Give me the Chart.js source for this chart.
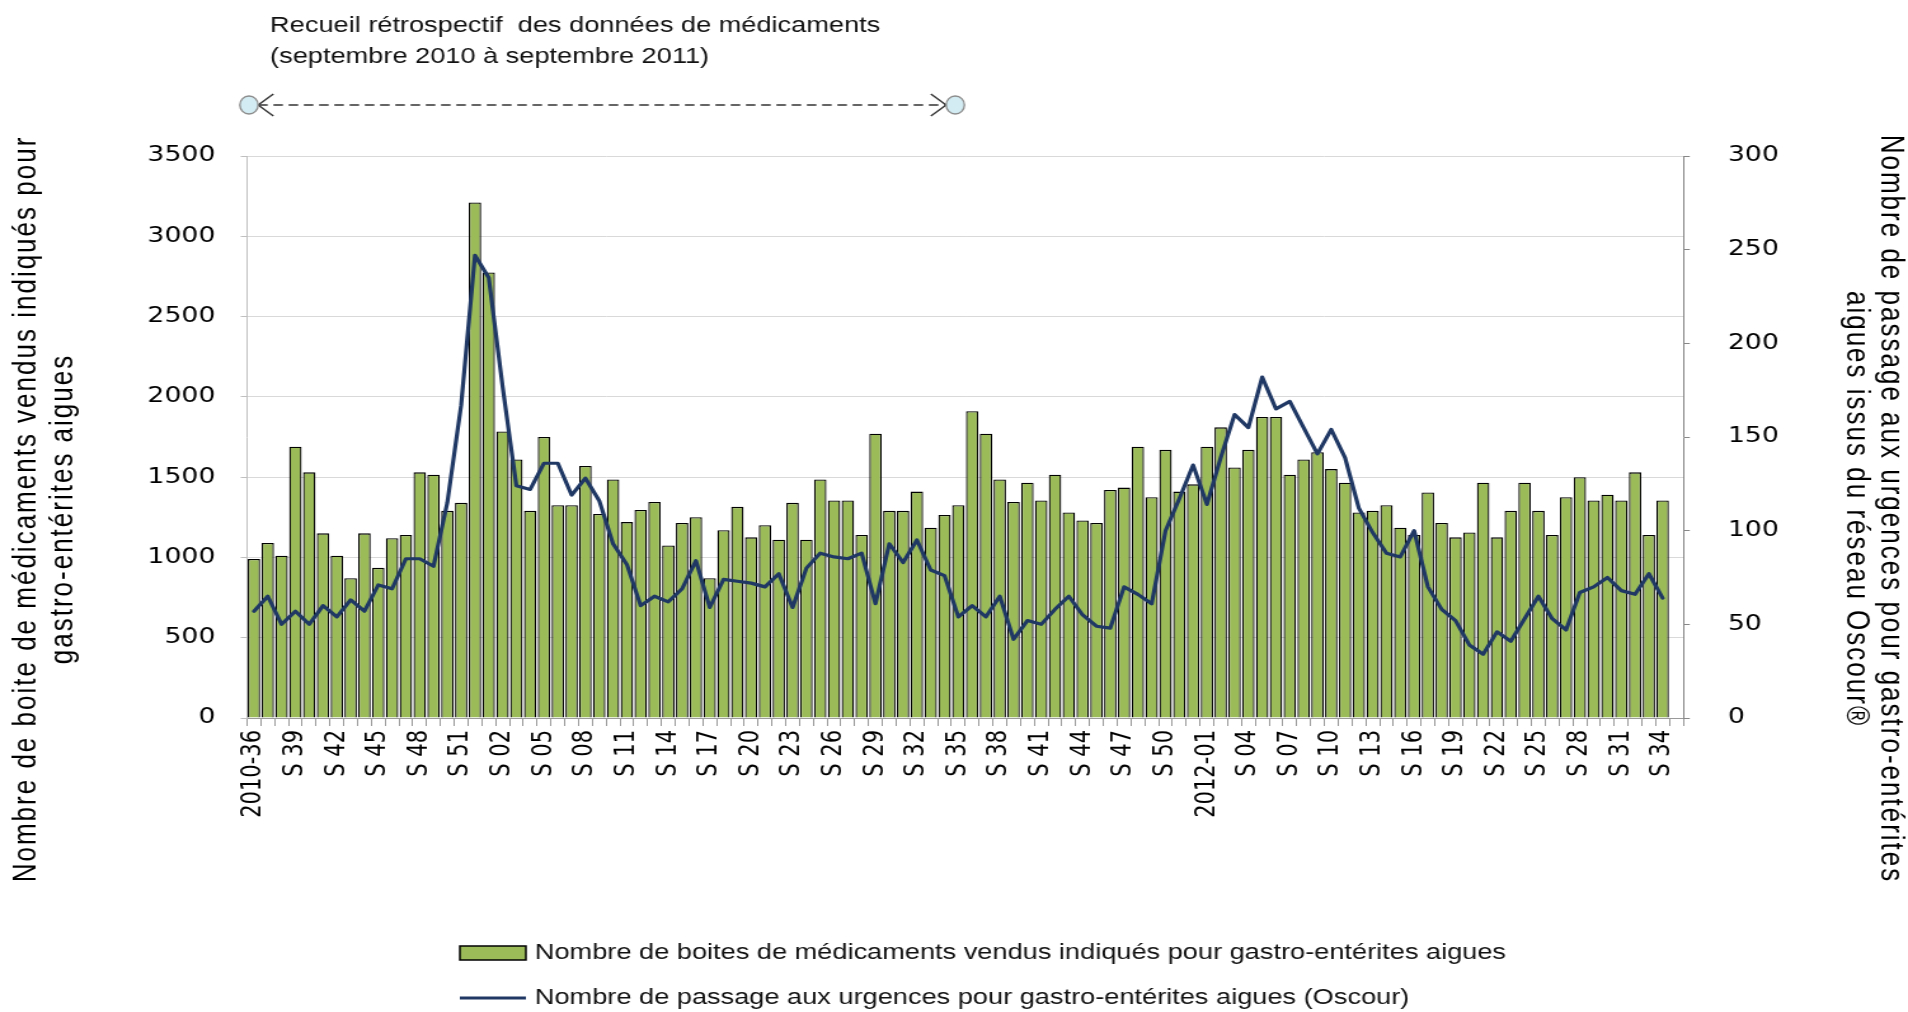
<!DOCTYPE html>
<html><head><meta charset="utf-8">
<script src="https://cdn.jsdelivr.net/npm/chart.js@4.4.1/dist/chart.umd.min.js"></script>
<style>html,body{margin:0;padding:0;background:#fff;overflow:hidden}canvas{display:block}</style>
</head><body>
<canvas id="c"></canvas>
<script>
const weekLabels = [
 "2010-36","S 37","S 38","S 39","S 40","S 41","S 42","S 43","S 44","S 45","S 46","S 47","S 48","S 49","S 50","S 51","S 52",
 "2011-01","S 02","S 03","S 04","S 05","S 06","S 07","S 08","S 09","S 10","S 11","S 12","S 13","S 14","S 15","S 16","S 17","S 18","S 19","S 20",
 "S 21","S 22","S 23","S 24","S 25","S 26","S 27","S 28","S 29","S 30","S 31","S 32","S 33","S 34","S 35","S 36","S 37","S 38","S 39","S 40",
 "S 41","S 42","S 43","S 44","S 45","S 46","S 47","S 48","S 49","S 50","S 51","S 52",
 "2012-01","S 02","S 03","S 04","S 05","S 06","S 07","S 08","S 09","S 10","S 11","S 12","S 13","S 14","S 15","S 16","S 17","S 18","S 19","S 20",
 "S 21","S 22","S 23","S 24","S 25","S 26","S 27","S 28","S 29","S 30","S 31","S 32","S 33","S 34","S 35"
];
const boxesSold = [
 990,1090,1010,1690,1530,1150,1010,870,1150,935,1120,1140,1530,1515,1290,1340,3210,
 2775,1785,1610,1290,1750,1325,1325,1570,1270,1485,1220,1295,1345,1075,1215,1250,870,1170,
 1315,1125,1200,1110,1340,1110,1485,1355,1355,1140,1770,1290,1290,1410,1185,1265,1325,
 1910,1770,1485,1345,1465,1355,1515,1280,1230,1215,1420,1435,1690,1375,1670,1410,1455,
 1690,1810,1560,1670,1875,1875,1515,1610,1655,1550,1465,1280,1290,1325,1185,1140,1405,1215,
 1125,1155,1465,1125,1290,1465,1290,1140,1375,1500,1355,1390,1355,1530,1140,1355,null
];
const erVisits = [
 57,65,50,57,50,60,54,63,57,71,69,85,85,81,115,167,247,
 235,177,124,122,136,136,119,128,116,93,82,60,65,62,69,84,59,74,
 73,72,70,77,59,80,88,86,85,88,61,93,83,95,79,76,54,
 60,54,65,42,52,50,58,65,55,49,48,70,66,61,100,117,135,
 114,139,162,155,182,165,169,155,141,154,139,112,99,88,86,100,70,58,
 52,39,34,46,41,53,65,53,47,67,70,75,68,66,77,64,null
];
const seriesNames = [
 "Nombre de boites de médicaments vendus indiqués pour gastro-entérites aigues",
 "Nombre de passage aux urgences pour gastro-entérites aigues (Oscour)"
];
const leftTitle = ["Nombre de boite de médicaments vendus indiqués pour","gastro-entérites aigues"];
const rightTitle = ["Nombre de passage aux urgences pour gastro-entérites","aigues issus du réseau Oscour®"];
const noteLines = ["Recueil rétrospectif  des données de médicaments","(septembre 2010 à septembre 2011)"];

const GREEN = '#9BBB59', NAVY = '#1F3864';
const STRETCH = 1.27;
const W = Math.round(1908 / STRETCH), H = 1012;
const cv = document.getElementById('c');
cv.width = W; cv.height = H;
cv.style.width = '1908px'; cv.style.height = '1012px';

const AREA_L = 247 / STRETCH, AREA_R = 1683 / STRETCH;
const TXT = '"Liberation Sans", Arial, sans-serif';
const TICKFONT = {family:'"DejaVu Sans", Verdana, sans-serif', size:21};

const decor = {
  id:'decor',
  afterDraw(chart){
    const ctx = chart.ctx;
    ctx.save();
    ctx.fillStyle = '#000';
    // axis titles
    ctx.font = '26px ' + TXT;
    ctx.letterSpacing = '2px';
    ctx.textAlign = 'center'; ctx.textBaseline = 'middle';
    const cy = 509;
    const put = (txt, x, rot) => { ctx.save(); ctx.translate(x, cy); ctx.rotate(rot); ctx.fillText(txt, 0, 0); ctx.restore(); };
    put(leftTitle[0], 21, -Math.PI/2);
    put(leftTitle[1], 50, -Math.PI/2);
    put(rightTitle[0], 1488, Math.PI/2);
    put(rightTitle[1], 1461, Math.PI/2);
    ctx.letterSpacing = '0px';
    // note above the chart
    ctx.font = '21.4px ' + TXT;
    ctx.textAlign = 'left';
    ctx.fillStyle = '#111';
    ctx.fillText(noteLines[0], 212.6, 26);
    ctx.fillText(noteLines[1], 212.6, 57);
    // dashed double arrow
    const ay = 105, x1 = 196, x2 = 752, rx = 7.2, ry = 9;
    ctx.strokeStyle = '#333'; ctx.lineWidth = 1.4;
    ctx.setLineDash([7.5, 4.5]);
    ctx.beginPath(); ctx.moveTo(x1 + rx, ay); ctx.lineTo(x2 - rx, ay); ctx.stroke();
    ctx.setLineDash([]);
    ctx.beginPath();
    ctx.moveTo(x1 + rx + 12, ay - 11); ctx.lineTo(x1 + rx, ay); ctx.lineTo(x1 + rx + 12, ay + 11);
    ctx.moveTo(x2 - rx - 12, ay - 11); ctx.lineTo(x2 - rx, ay); ctx.lineTo(x2 - rx - 12, ay + 11);
    ctx.stroke();
    [x1, x2].forEach(x => {
      ctx.beginPath(); ctx.ellipse(x, ay, rx, ry, 0, 0, Math.PI*2);
      ctx.fillStyle = '#d3ecf3'; ctx.fill();
      ctx.strokeStyle = '#8c8c8c'; ctx.lineWidth = 1.3; ctx.stroke();
    });
    // legend
    const ds = chart.data.datasets;
    const bar = ds.find(d => d.type === 'bar'), line = ds.find(d => d.type === 'line');
    const lx = 362, lw = 52, tx = 421, y1 = 953, y2 = 998;
    ctx.fillStyle = bar.backgroundColor; ctx.fillRect(lx, y1 - 7, lw, 14);
    ctx.strokeStyle = '#000'; ctx.lineWidth = 1.5; ctx.strokeRect(lx, y1 - 7, lw, 14);
    ctx.strokeStyle = line.borderColor; ctx.lineWidth = 3;
    ctx.beginPath(); ctx.moveTo(lx, y2); ctx.lineTo(lx + lw, y2); ctx.stroke();
    ctx.fillStyle = '#111'; ctx.font = '21.4px ' + TXT; ctx.textBaseline = 'middle';
    ctx.fillText(bar.label, tx, y1);
    ctx.fillText(line.label, tx, y2);
    ctx.restore();
  }
};

new Chart(cv, {
  type: 'bar',
  data: {
    labels: weekLabels,
    datasets: [
      {type:'line', label: seriesNames[1], data: erVisits, yAxisID:'y1', borderColor: NAVY, borderWidth: 3.2,
       pointRadius:0, tension:0, order:1, borderJoinStyle:'round', borderCapStyle:'round'},
      {type:'bar', label: seriesNames[0], data: boxesSold, yAxisID:'y', backgroundColor: GREEN,
       borderColor:'#000', borderWidth:1.3, barPercentage:0.9, categoryPercentage:1, order:2}
    ]
  },
  options: {
    responsive:false, animation:false, devicePixelRatio:1,
    layout:{padding:{top:156, left:0, right:0, bottom:0}},
    plugins:{legend:{display:false}, tooltip:{enabled:false}},
    scales:{
      x:{
        grid:{display:true, drawOnChartArea:false, drawTicks:true, tickLength:8, offset:true, color:'#9a9a9a', tickColor:'#9a9a9a'},
        border:{color:'#9a9a9a'},
        ticks:{autoSkip:false, maxRotation:90, minRotation:90, padding:4, font:TICKFONT, color:'#000',
               callback:(v, i) => i % 3 === 0 ? weekLabels[i] : ''},
        afterFit: s => { s.height = 1012 - 718; }
      },
      y:{
        position:'left', min:0, max:3500,
        ticks:{stepSize:500, padding:20, font:TICKFONT, color:'#000', callback: v => String(v)},
        grid:{color:'#d9d9d9', tickLength:5, tickColor:'#bfbfbf'},
        border:{color:'#bfbfbf'},
        afterFit: s => { s.width = AREA_L; }
      },
      y1:{
        position:'right', min:0, max:300,
        ticks:{stepSize:50, padding:30, font:TICKFONT, color:'#000', callback: v => String(v)},
        grid:{drawOnChartArea:false, tickLength:5, tickColor:'#888'},
        border:{color:'#888'},
        afterFit: s => { s.width = W - AREA_R; }
      }
    }
  },
  plugins:[decor]
});
</script>
</body></html>
